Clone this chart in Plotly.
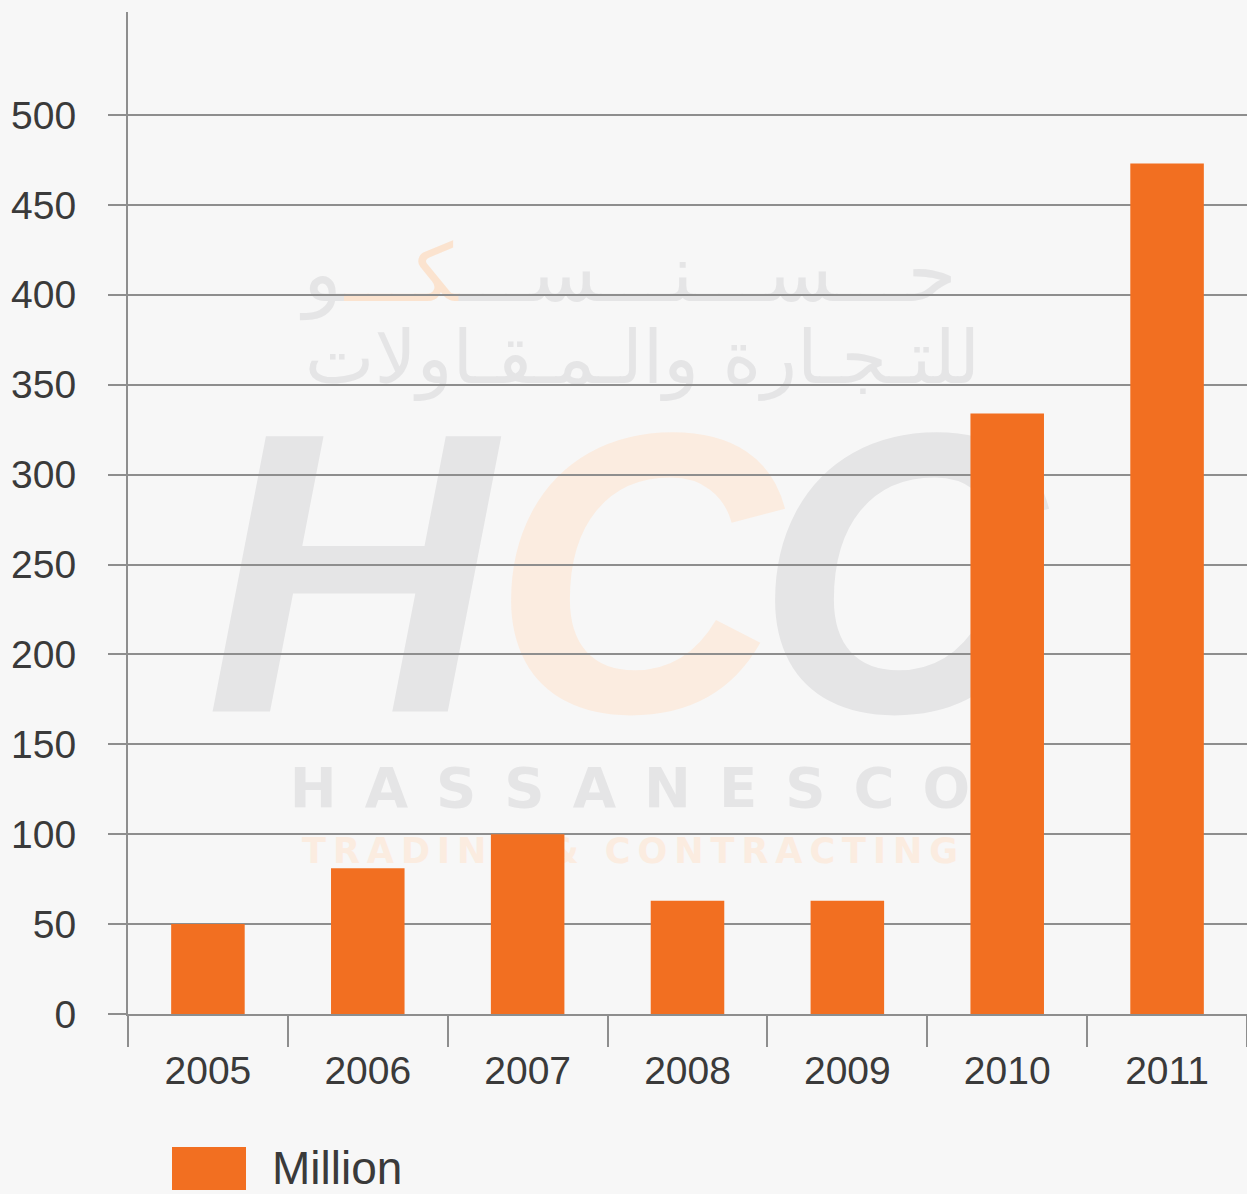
import plotly.graph_objects as go

years = [2005, 2006, 2007, 2008, 2009, 2010, 2011]
values = [50, 81, 100, 63, 63, 334, 473]
y_ticks = [0, 50, 100, 150, 200, 250, 300, 350, 400, 450, 500]
series_name = "Million"

W, H = 1247, 1194
L, R, T, B = 128, 0, 12, 180
BG = "#f7f7f7"
GRID = "#8e8e8e"
ORANGE = "#f26f21"
TXT = "#3a3a3a"
WM_GRAY = "#e5e5e6"
WM_ORANGE = "#fbece0"


def px(x):
    return (x - L) / (W - L - R)


def py(y):
    return (H - B - y) / (H - B - T)


fig = go.Figure()
fig.add_trace(go.Bar(
    x=years, y=values, name=series_name, width=0.46,
    marker=dict(color=ORANGE, line=dict(width=0)),
    showlegend=False,
))

fig.update_layout(
    width=W, height=H,
    margin=dict(l=L, r=R, t=T, b=B, pad=0),
    paper_bgcolor=BG, plot_bgcolor="rgba(0,0,0,0)",
    font=dict(family="Liberation Sans", color=TXT),
    xaxis=dict(
        range=[2004.5, 2011.5], tickmode="array", tickvals=years,
        ticktext=[str(y) for y in years],
        showgrid=False, zeroline=False,
        showline=True, linecolor=GRID, linewidth=2,
        ticks="", ticklabelstandoff=21,
        tickfont=dict(size=39, color=TXT),
        minor=dict(tickmode="array", tickvals=[y - 0.5 for y in years] + [2011.5],
                   ticks="outside", ticklen=31, tickwidth=2, tickcolor=GRID),
    ),
    yaxis=dict(
        range=[0, 557.3], tickmode="array", tickvals=y_ticks,
        showgrid=True, gridcolor=GRID, gridwidth=2, zeroline=False,
        showline=True, linecolor=GRID, linewidth=2,
        ticks="outside", ticklen=18, tickwidth=2, tickcolor=GRID,
        ticklabelstandoff=24,
        tickfont=dict(size=39, color=TXT),
    ),
)

# watermark logo, drawn beneath gridlines and bars
watermark = [
    (295, 965, 225, 310, "حـــســـنـــســـ<span style='fill:#fbe3cf'>كـــ</span>و",
     dict(family="DejaVu Sans", size=80, color=WM_GRAY)),
    (295, 990, 315, 390, "للتـجـارة والـمـقـاولات",
     dict(family="DejaVu Sans", size=74, color=WM_GRAY)),
    (170, 530, 380, 690, "<b><i>H</i></b>",
     dict(family="Liberation Sans", size=400, color=WM_GRAY)),
    (466, 806, 380, 690, "<b><i>C</i></b>",
     dict(family="Liberation Sans", size=400, color=WM_ORANGE)),
    (730, 1070, 380, 690, "<b><i>C</i></b>",
     dict(family="Liberation Sans", size=400, color=WM_GRAY)),
    (280, 980, 760, 806, "<b>" + "\u2002".join("HASSANESCO") + "</b>",
     dict(family="DejaVu Sans", size=56, color=WM_GRAY)),
    (280, 980, 832, 864, "<b>" + "\u2009".join("TRADING & CONTRACTING") + "</b>",
     dict(family="DejaVu Sans", size=35, color=WM_ORANGE)),
]
for x0, x1, y0, y1, text, font in watermark:
    fig.add_shape(type="rect", xref="paper", yref="paper", layer="below",
                  x0=px(x0), x1=px(x1), y0=py(y1), y1=py(y0),
                  fillcolor="rgba(0,0,0,0)", line=dict(width=0),
                  label=dict(text=text, font=font, textposition="middle center"))

# legend
fig.add_shape(type="rect", xref="paper", yref="paper",
              x0=px(172), x1=px(246), y0=py(1190), y1=py(1147),
              fillcolor=ORANGE, line=dict(width=0))
fig.add_annotation(x=px(270), y=py(1168), text=series_name, xanchor="left",
                   yanchor="middle", xref="paper", yref="paper", showarrow=False,
                   font=dict(family="Liberation Sans", size=46, color=TXT))

fig.write_html("out.html", config={"displayModeBar": False},
               post_script="document.body.style.margin='0px';")
